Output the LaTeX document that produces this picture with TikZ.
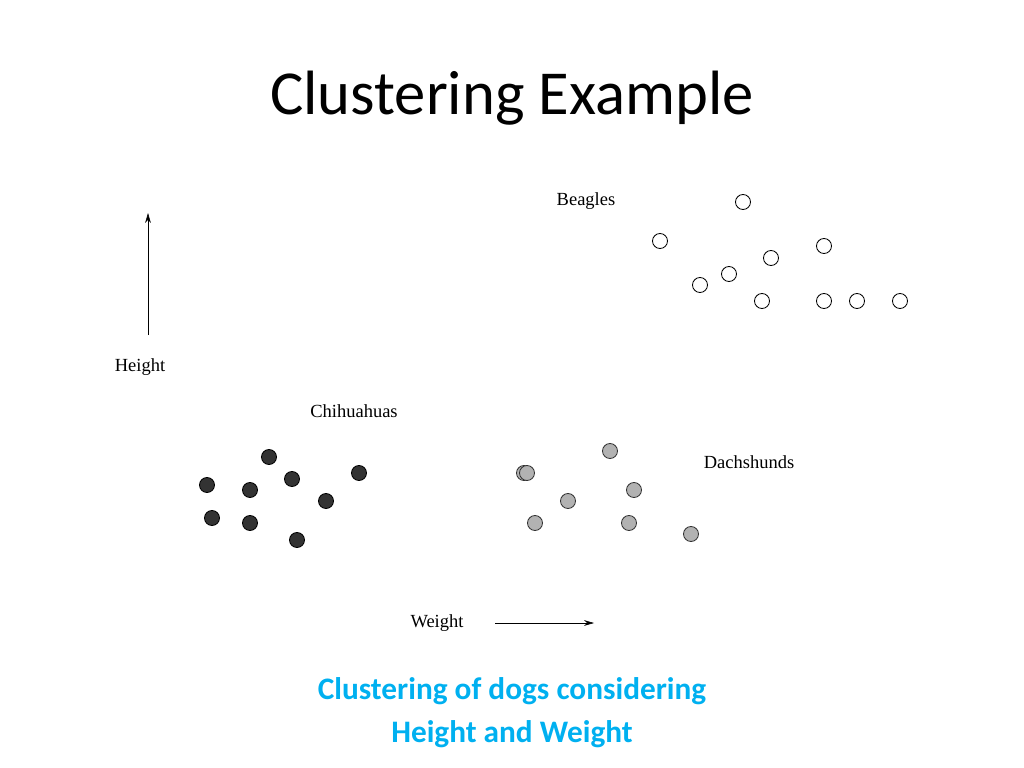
\documentclass[tikz,border=0pt]{standalone}
\usepackage{fontspec}
\setmainfont{Carlito}
\newfontfamily\labelfont{Liberation Serif}
\usetikzlibrary{arrows.meta}
\definecolor{capblue}{RGB}{0,176,240}
\tikzset{
  beagle/.style={draw=black, fill=white, line width=0.6pt},
  chihua/.style={draw=black, fill=black!80, line width=0.6pt},
  dachs/.style={draw=black!80, fill=black!30, line width=0.6pt},
  lbl/.style={font=\labelfont\fontsize{13}{15}\selectfont},
}
\begin{document}
\begin{tikzpicture}[x=0.703pt, y=-0.703pt]
    \useasboundingbox (0,0) rectangle (1024,768);
    \node (title) at (512,98) {\fontsize{44}{50}\selectfont Clustering Example};

    % axes
    \coordinate (H0) at (148,335);
    \coordinate (H1) at (148,213);
    \coordinate (W0) at (495,623);
    \coordinate (W1) at (594,623);
    \draw[-{Stealth[length=7pt,width=4pt]}] (H0) -- (H1);
    \draw[-{Stealth[length=7pt,width=4pt]}] (W0) -- (W1);
    \node[lbl] (height) at (140,367) {Height};
    \node[lbl] (weight) at (437,623) {Weight};

    % labels of the clusters
    \node[lbl] (beagles) at (586,201) {Beagles};
    \node[lbl] (chihuahuas) at (354,411) {Chihuahuas};
    \node[lbl] (dachshunds) at (749,462) {Dachshunds};

    % beagles
    \foreach \x/\y in {743/202, 660/241, 824/246, 771/258, 729/274, 700/285,
                       762/301, 824/301, 857/301, 900/301}
      \draw[beagle] (\x,\y) circle (7.5);

    % chihuahuas
    \foreach \x/\y in {269/457, 292/479, 359/473, 207/485, 250/490,
                       326/501, 212/518, 250/523, 297/540}
      \draw[chihua] (\x,\y) circle (7.5);

    % dachshunds
    \foreach \x/\y in {524/473, 527/473, 610/451, 634/490, 568/501,
                       535/523, 629/523, 691/534}
      \draw[dachs] (\x,\y) circle (7.5);

    \node[align=center, text=capblue, font=\bfseries\fontsize{22}{30}\selectfont]
      (caption) at (512,713) {Clustering of dogs considering\\Height and Weight};
\end{tikzpicture}
\end{document}
